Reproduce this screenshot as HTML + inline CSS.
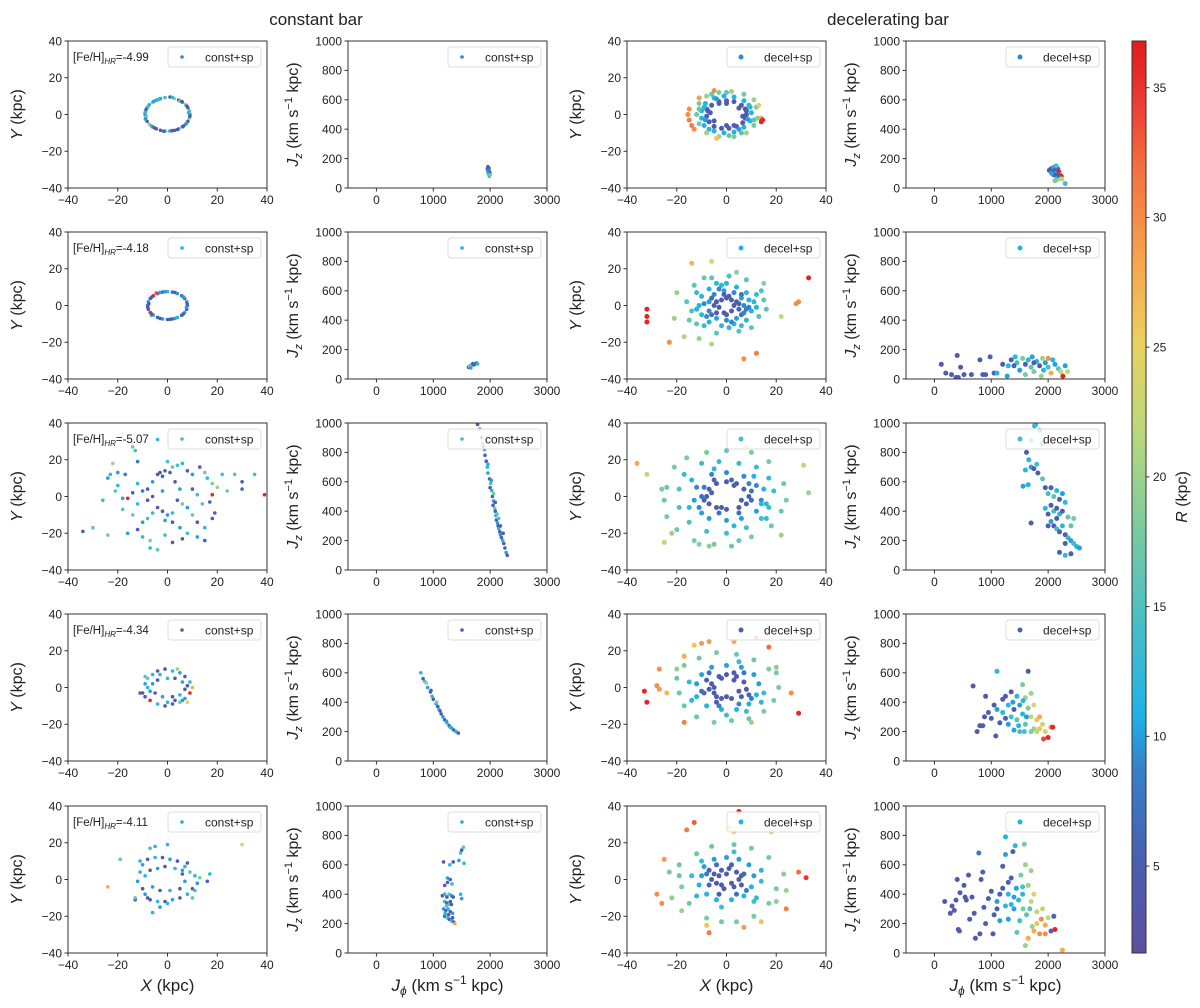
<!DOCTYPE html>
<html><head><meta charset="utf-8"><style>
html,body{margin:0;padding:0;background:#fff;}
svg text{font-family:"Liberation Sans","DejaVu Sans",sans-serif;fill:#222;}
</style></head><body>
<svg id="fig" width="1200" height="1003" viewBox="0 0 1200 1003" xmlns="http://www.w3.org/2000/svg">
<defs>
<linearGradient id="cbgrad" x1="0" y1="1" x2="0" y2="0"></linearGradient>
</defs>
<text x="316" y="25" font-size="17" text-anchor="middle">constant bar</text>
<text x="888" y="25" font-size="17" text-anchor="middle">decelerating bar</text>
<g id="panels"></g>
<g id="cbar"></g>
</svg>
<script>
// ---- data ----
const feh = ["-4.99","-4.18","-5.07","-4.34","-4.11"];
const legendLabelsConst = ["const+sp","const+sp","const+sp","const+sp","const+sp"];
const legendLabelsDecel = ["decel+sp","decel+sp","decel+sp","decel+sp","decel+sp"];
const legendR = [9, 11, 14, 5, 11];
const xyTicks = [-40,-20,0,20,40];
const jphiTicks = [0,1000,2000,3000];
const jzTicks = [0,200,400,600,800,1000];
const cbTicks = [5,10,15,20,25,30,35];

const cA1=[[9,0,8],[8.8,2,16],[8.2,3.7,5],[7.3,5.3,17],[6,6.7,10],[4.5,7.8,4],[2.8,8.6,20],[1,9.5,5],[-1,9.2,14],[-2.8,8.6,10],[-4.5,7.8,11],[-6,6.7,16],[-7.3,5.3,10],[-8.2,3.7,12],[-8.8,1.9,17],[-9,0,5],[-8.8,-1.9,12],[-8.2,-3.7,5],[-7.3,-5.3,28],[-6,-6.7,4],[-4.5,-7.8,5],[-2.8,-8.6,4],[-0.9,-9,16],[0.9,-9,12],[2.8,-8.6,5],[4.5,-7.8,10],[6,-6.7,5],[7.3,-5.3,12],[8.2,-3.7,4],[8.8,-1.9,18],[8.5,1,12],[7.8,4.5,5],[5,7.3,17],[-3.5,8.3,12],[-7.8,4.5,14],[-8.5,-1,18],[-5.2,-7.3,4],[1.8,-8.8,4],[6.5,-6.2,5],[-9,1,12],[9,-1,5],[7.6,-4.8,10],[4,-8.2,4],[-1.5,-9.1,5],[-6.5,-6.2,12],[-8.9,-2.5,10],[-8.6,2.8,5],[-5.5,7.2,10],[2,9.3,12],[5.8,7,4]];
const cA2=[[1950,130,5],[1960,145,4],[1975,120,12],[1990,110,6],[1970,95,16],[1985,80,14],[1995,100,5],[1960,110,10],[1980,135,4],[2000,90,18],[1965,125,8]];
const cB1=[[8,0,5],[7.7,2,10],[6.9,3.8,4],[5.7,5.3,5],[4,6.5,10],[2,7.3,5],[0,7.6,12],[-2,7.3,4],[-4,6.5,5],[-5.7,5.3,36],[-6.9,3.8,5],[-7.7,2,10],[-8,0,5],[-7.7,-2,4],[-6.9,-3.8,36],[-5.7,-5.3,12],[-4,-6.5,5],[-2,-7.3,10],[0,-7.6,4],[2,-7.3,5],[4,-6.5,12],[5.7,-5.3,5],[6.9,-3.8,10],[7.7,-2,4],[-4.5,6.8,34],[3,7,18],[-6.5,-5.5,16],[6.5,4.5,12],[-7.5,1,5],[7.6,-1,10],[1,-7.5,5],[-1,7.5,10],[7.9,1,5],[6.3,4.7,10],[3,7.1,5],[-3,7,10],[-6.3,4.6,5],[-7.9,-1,4],[-6.3,-4.7,5],[-3,-7,4],[3,-7,10],[6.3,-4.7,5]];
const cB2=[[1620,80,5],[1650,90,10],[1680,100,12],[1700,105,5],[1730,100,10],[1760,108,4],[1780,103,12],[1640,85,16],[1710,95,5],[1660,75,10]];
const cC1=[[-14,27,17],[-13,25,14],[-22,18,20],[-23,12,12],[-20,13,10],[-17,12,8],[-21,3,16],[-26,-2,14],[-18,-1,10],[-16,-1,36],[-14,2,5],[-12,7,12],[-10,3,8],[-8,4,5],[-6,8,10],[-4,12,5],[-3,13,4],[-2,11,4],[-1,14,6],[1,13,5],[2,16,17],[4,17,14],[6,18,12],[8,14,5],[10,12,10],[13,16,4],[15,13,17],[16,10,12],[18,7,18],[20,5,20],[22,12,14],[24,3,18],[27,12,16],[30,8,5],[30,4,6],[35,12,14],[39,1,36],[18,1,36],[17,-3,5],[19,-9,5],[18,-12,4],[15,-17,12],[12,-14,5],[10,-10,17],[8,-6,10],[6,-4,18],[4,-2,5],[2,-9,12],[0,-10,10],[-2,-8,5],[-4,-6,4],[-6,-9,12],[-8,-12,14],[-10,-14,10],[-12,-18,5],[-14,-10,17],[-16,-20,10],[-10,-22,12],[-7,-24,18],[-4,-29,16],[-7,-28,12],[-1,-21,14],[2,-25,4],[6,-23,5],[5,-17,10],[8,-20,14],[-34,-19,5],[-30,-17,16],[-24,-21,18],[-2,3,10],[-6,0,5],[3,8,4],[10,4,5],[12,1,14],[14,-4,16],[-12,-4,12],[-18,-7,16],[-20,6,12],[-24,10,10],[-4,31,12],[-12,19,8],[0,19,14],[15,-24,5],[12,-22,10],[5,4,10],[-8,-2,4],[-1,-13,10],[2,-14,5]];
const cC2=[[1780,990,4],[1820,960,12],[1850,900,5],[1870,860,14],[1900,820,10],[1910,780,5],[1930,740,4],[1950,700,12],[1960,660,10],[1990,620,5],[2010,590,14],[2000,560,4],[2030,540,12],[2040,500,5],[2060,470,10],[2050,440,4],[2080,420,16],[2090,400,5],[2100,370,12],[2110,340,4],[2130,320,10],[2140,300,5],[2150,280,12],[2170,260,4],[2180,240,10],[2200,220,5],[2220,200,12],[2240,180,4],[2260,150,5],[2280,120,10],[2300,100,5],[2060,520,18],[2120,380,16],[2180,300,4],[2090,460,5],[2020,610,10],[1960,720,12],[1880,840,5],[2150,350,14],[2230,250,5]];
const cD1=[[-10,-3,4],[-9,2,10],[-8,5,17],[-6,7,12],[-4,9,5],[-1,10,4],[2,9,12],[5,8,10],[7,6,5],[9,3,12],[10,0,28],[9,-3,36],[7,-6,10],[5,-8,18],[2,-9,5],[-1,-10,4],[-4,-9,12],[-7,-7,36],[-9,-5,5],[-11,-3,4],[-6,2,10],[-4,4,5],[0,5,12],[3,5,4],[6,3,10],[7,-1,5],[5,-4,12],[2,-5,4],[-2,-5,10],[-5,-3,5],[-8,0,12],[4,10,20],[-9,6,16],[8,-8,25],[0,-8,12],[3,-7,5],[-3,7,12],[6,-7,10],[8,1,4],[-7,-2,10]];
const cD2=[[780,600,12],[820,560,5],[850,540,14],[900,500,10],[950,470,5],[980,440,12],[1000,420,4],[1050,390,10],[1080,370,5],[1100,350,12],[1140,320,4],[1170,300,10],[1200,280,5],[1240,260,12],[1280,240,4],[1320,225,10],[1360,210,5],[1400,200,12],[1440,190,4],[1060,400,18],[1120,340,5],[1230,270,10],[960,480,4],[1300,230,12],[880,530,20]];
const cE1=[[-24,-4,28],[-19,11,16],[30,19,22],[17,3,12],[16,-1,5],[-7,17,14],[-5,18,12],[0,19,12],[-13,-11,5],[-13,-10,16],[-12,-1,10],[-11,4,12],[-10,8,10],[-8,11,5],[-5,12,12],[-2,12,4],[1,11,10],[4,10,5],[7,7,12],[9,4,16],[11,2,12],[12,-2,10],[10,-5,5],[8,-8,12],[5,-10,4],[2,-11,10],[-1,-12,5],[-4,-12,12],[-7,-11,4],[-9,-8,10],[-10,-5,5],[-9,2,12],[-7,5,5],[-4,6,10],[-1,7,4],[3,6,12],[6,3,5],[7,-1,10],[5,-5,4],[1,-6,12],[-3,-6,5],[-6,-4,10],[-6,-18,12],[-3,-15,10],[0,-13,12],[13,1,18],[10,-10,16],[-8,-10,5],[6,5,10],[-11,10,12],[8,9,5],[11,-6,14]];
const cE2=[[1180,620,5],[1290,600,12],[1350,620,4],[1450,630,10],[1480,680,14],[1500,700,5],[1530,720,16],[1540,610,12],[1250,510,10],[1300,500,5],[1330,470,12],[1200,460,4],[1250,480,5],[1480,400,12],[1500,370,10],[1160,390,4],[1200,400,12],[1240,380,5],[1280,400,16],[1320,390,10],[1350,380,5],[1200,350,12],[1240,340,4],[1280,330,16],[1320,330,5],[1180,300,10],[1220,290,5],[1260,300,12],[1300,280,4],[1340,270,10],[1200,250,5],[1240,240,16],[1280,230,4],[1320,220,12],[1360,210,5],[1380,200,28],[1210,270,12],[1230,320,16],[1300,350,5],[1270,260,4],[1340,240,5]];

const dA3=[[8,0,5],[7.5,3,4],[6,5,5],[3,7,4],[0,7.5,5],[-3,7,4],[-6,5,5],[-7.5,2,4],[-8,-1,5],[-7,-4,4],[-5,-6.5,5],[-2,-7.5,4],[1,-7.5,5],[4,-6.5,4],[6.5,-4.5,5],[7.5,-2,4],[-8,3,5],[8,2,4],[10,1,11],[9.5,4,11],[7,7.5,11],[3,9.5,11],[-1,10,11],[-5,9,11],[-8.5,6,11],[-10,2,11],[-10,-2,11],[-9,-6,11],[-5,-9,11],[-1,-10,11],[3,-9.5,11],[7,-7,11],[9.5,-3.5,11],[-7,-8,12],[12,4,18],[11,8,20],[7,11,18],[2,12.5,20],[-3,12,18],[-8,10,20],[-11,6,18],[-12,0,17],[-11,-5,18],[-8,-10,20],[-3,-12,20],[3,-12,18],[8,-10,20],[11,-6,18],[12.5,-2,19],[13,5,24],[-4,-13,26],[-15,3,30],[-15.5,0,30],[-15,-3,31],[-14,-6,31],[-13,-8,30],[-11,9,29],[-5,13,30],[14,-2,28],[14,-4,36],[14.5,-3,36],[6.5,-1,5],[-6.5,1,5],[5,3.5,4],[-5,-3.5,4],[0,-6,5],[0,6,4],[3,-6,5],[-3,6,5],[8.5,-2.5,10],[-8.5,-3,10],[5,-8,10],[-4,8.5,10],[9,5,12],[-9,4,12],[11,-3,16],[-11,3,16],[6,-10,16],[-6,11,17],[0,12,16],[1,-11.5,16]];
const dA4=[[2020,120,5],[2050,130,4],[2080,110,5],[2100,140,10],[2130,120,4],[2150,100,12],[2170,130,5],[2190,110,36],[2210,90,30],[2230,80,36],[2200,70,16],[2170,60,20],[2150,80,12],[2120,50,18],[2240,60,22],[2300,30,14],[2100,90,5],[2060,100,10],[2140,150,14],[2180,90,4]];
const dB3=[[-2,3,4],[0,4,4],[2,3,4],[3,0,4],[2,-3,4],[-1,-4,4],[-3,-1,4],[-4,2,4],[1,5,5],[4,2,5],[-4,-4,5],[5,-2,5],[7,0,9],[6,4,10],[3,7,9],[-1,8,10],[-5,6,9],[-7,2,10],[-7,-3,9],[-4,-7,10],[0,-8,9],[4,-7,10],[7,-4,9],[9,3,11],[8,7,12],[4,10,11],[-2,11,12],[-7,9,11],[-10,5,12],[-11,0,11],[-10,-5,12],[-7,-9,11],[-2,-11,12],[3,-10,11],[8,-8,12],[10,-3,11],[11,2,12],[12,6,13],[-12,7,13],[-9,-11,13],[6,-11,13],[0,12,12],[14,8,15],[13,-6,15],[-14,-3,15],[-13,11,16],[-6,15,16],[1,16,15],[8,14,16],[15,3,16],[16,-2,16],[5,-14,15],[-4,-15,16],[-12,-10,16],[-16,2,16],[-15,-8,17],[10,-12,16],[-9,15,17],[-20,7,20],[-21,-7,20],[-17,-17,21],[-11,-18,20],[-6,-21,21],[-6,24,24],[-14,23,27],[4,18,19],[15,12,19],[22,-6,22],[-23,-20,30],[7,-29,30],[12,-26,31],[28,1,30],[29,2,30],[33,15,36],[-32,-2,36],[-32,-6,36],[-32,-9,36],[-5,0,5],[5,1,5],[0,-5,5],[-1,6,5],[6,-5,7],[-6,-5,7],[-6,4,7],[6,6,7],[-9,1,9],[9,-1,9],[2,-9,9],[-3,9,9],[8,-2,8],[-8,-6,9],[12,-1,11],[-12,-2,11],[1,-12,12],[-4,12,12]];
const dB4=[[120,100,4],[200,40,4],[300,30,4],[380,10,4],[400,160,4],[420,10,4],[460,80,5],[520,30,4],[650,30,5],[800,130,4],[850,30,5],[900,30,4],[980,150,5],[1050,40,5],[1100,40,12],[1200,100,5],[1280,20,10],[1300,90,12],[1350,130,5],[1420,150,12],[1450,110,14],[1500,60,10],[1550,140,18],[1600,100,5],[1650,130,12],[1700,80,16],[1720,150,10],[1750,50,18],[1800,120,12],[1850,90,5],[1900,140,20],[1920,60,12],[1950,110,10],[2000,80,14],[2050,40,28],[2080,130,12],[2120,100,10],[2180,70,16],[2220,50,22],[2260,20,36],[2300,90,10],[2340,50,22],[2000,140,30],[1880,20,20],[1400,90,5],[1600,30,18],[1750,110,5]];
const dC3=[[-8,0,5],[-7,4,5],[-4,7,5],[0,8,5],[4,7,5],[7,4,5],[9,0,5],[8,-4,5],[5,-6,5],[0,-7,5],[-4,-6,5],[-7,-4,5],[-9,-2,6],[2,9,6],[10,-2,6],[-5,9,6],[-12,5,9],[-11,-6,9],[-6,12,9],[0,13,9],[7,11,9],[12,6,9],[14,-2,9],[12,-8,10],[6,-12,10],[0,-13,10],[-7,-12,10],[-13,-2,10],[15,4,11],[-14,9,11],[-17,12,13],[-10,18,13],[-3,19,13],[5,18,13],[12,16,13],[17,10,13],[19,3,13],[17,-6,13],[14,-12,14],[8,-17,14],[0,-20,14],[-8,-19,14],[-15,-14,15],[-19,-6,15],[-19,4,15],[14,-4,12],[16,-12,13],[-24,5,17],[-25,-2,17],[-24,-11,18],[-20,-18,17],[-13,-24,18],[-5,-26,18],[2,-27,17],[10,-22,18],[18,-16,17],[22,-8,17],[24,-2,18],[23,7,17],[17,19,18],[10,24,18],[0,25,17],[-8,24,18],[-16,21,18],[-21,16,18],[-22,-20,20],[-11,-26,19],[-26,4,18],[5,-24,17],[-36,18,28],[-32,12,22],[31,17,22],[33,2,20],[-25,-25,22],[22,-21,20],[-7,-27,19],[8,27,22],[-6,2,5],[6,-2,5],[-2,-6,5],[3,6,5],[-10,0,7],[10,3,7],[-3,-9,7],[5,-9,7],[-9,5,8],[9,7,9],[-10,-9,10],[3,-16,12],[-15,-6,12],[16,-4,12],[-5,15,12],[11,11,11]];
const dC4=[[1760,980,12],[1780,990,13],[1700,880,14],[1850,950,12],[1900,860,10],[1620,800,5],[1660,750,12],[1700,700,10],[1750,690,5],[1800,720,14],[1820,660,5],[1600,680,12],[1560,570,10],[1650,580,11],[1900,620,16],[1950,560,5],[2000,520,14],[2050,560,5],[2100,500,16],[2150,540,12],[2200,480,5],[2250,520,10],[2300,460,12],[2050,440,5],[2100,400,14],[2150,420,5],[2200,380,12],[2250,400,5],[2350,360,16],[2000,380,5],[2050,330,10],[2100,300,5],[2150,280,14],[2200,260,5],[2250,300,12],[2300,240,5],[2350,220,12],[2400,200,10],[2450,180,14],[2500,160,12],[2550,150,10],[2200,120,5],[2300,100,12],[2400,110,5],[2000,300,5],[1950,420,12],[2150,350,5],[2400,300,16],[2450,350,18],[1700,320,5],[2300,180,5]];
const dD3=[[-6,2,4],[-5,-3,4],[-3,6,4],[0,7,4],[4,6,4],[7,3,4],[8,-1,4],[6,-5,4],[2,-6,4],[-2,-6,5],[-7,-1,5],[-8,4,5],[3,8,5],[-4,-8,5],[9,-4,6],[-9,-3,6],[-12,2,10],[-10,7,10],[-6,11,10],[0,12,10],[6,11,10],[11,7,10],[13,2,10],[12,-4,11],[9,-9,11],[4,-12,11],[-2,-12,11],[-8,-10,11],[-12,-5,11],[14,-8,12],[8,-13,13],[-14,-7,12],[-20,5,17],[-19,-3,17],[-17,12,18],[-11,16,17],[-4,19,18],[4,18,17],[11,15,17],[17,10,18],[20,8,18],[21,0,18],[19,-7,18],[15,-13,18],[9,-17,17],[2,-18,17],[-5,-19,18],[-12,-16,17],[-17,-10,17],[-20,10,19],[20,11,19],[10,-19,20],[-27,10,30],[-28,1,30],[-27,-1,29],[-24,-3,27],[-17,-19,31],[-17,17,28],[-10,24,29],[-7,25,29],[3,25,28],[12,27,30],[17,22,32],[26,-3,30],[-13,23,26],[-33,-2,36],[-32,-8,36],[29,-14,36],[-5,0,4],[5,-2,4],[0,-5,4],[-2,5,4],[3,4,4],[-4,-5,5],[-10,-2,7],[10,-6,8],[-7,8,7],[7,8,8],[-3,-10,8],[5,-9,9],[-15,3,13],[15,-3,13],[0,-15,14],[5,14,13]];
const dD4=[[680,510,4],[750,200,4],[800,240,4],[850,240,5],[880,300,4],[900,440,4],[950,330,5],[1000,290,4],[1050,380,5],[1080,170,4],[1100,350,10],[1100,610,12],[1150,260,5],[1200,420,4],[1200,330,12],[1250,440,5],[1300,250,10],[1300,380,12],[1350,470,4],[1350,300,14],[1400,210,10],[1400,350,5],[1450,440,12],[1450,280,16],[1500,380,10],[1500,200,14],[1550,520,18],[1550,320,12],[1600,430,20],[1600,250,16],[1650,610,4],[1650,360,18],[1700,300,22],[1700,460,20],[1750,220,20],[1750,380,24],[1800,280,26],[1800,200,22],[1850,300,28],[1900,250,22],[1920,150,34],[1950,200,24],[2000,160,36],[2050,230,30],[2080,230,36],[1250,290,5],[1380,400,10],[1480,240,12],[1580,200,14],[1620,300,10],[1560,410,12],[1700,200,18],[1850,220,26]];
const dE3=[[-5,3,4],[-4,-2,4],[-2,5,4],[1,6,4],[4,4,4],[5,0,4],[3,-4,4],[-1,-5,4],[-6,0,5],[6,-3,5],[-7,5,5],[2,8,5],[-3,-8,5],[7,3,6],[-10,2,10],[-9,7,10],[-5,11,10],[0,12,10],[5,11,10],[9,8,10],[11,2,10],[10,-4,11],[7,-9,11],[2,-11,11],[-4,-11,11],[-8,-8,11],[-11,-3,11],[12,-10,12],[-12,-9,12],[14,5,12],[-19,8,17],[-19,2,17],[-18,-4,18],[-15,-13,17],[-8,-21,18],[-2,-23,18],[4,-23,18],[11,-20,18],[17,-13,18],[20,-5,18],[23,3,19],[17,12,18],[10,17,18],[3,19,17],[-6,18,17],[-12,14,17],[-23,4,18],[-22,-10,19],[-18,-17,20],[-8,-25,26],[14,-23,26],[24,-6,20],[20,-12,19],[-25,11,29],[-28,-8,30],[-26,-13,30],[-16,27,31],[-13,31,33],[5,37,36],[7,-26,29],[-7,-29,31],[24,-16,31],[29,4,32],[32,1,35],[1,28,26],[3,26,26],[18,26,26],[-3,2,4],[2,-2,4],[0,3,4],[-2,-3,4],[6,2,6],[-7,-3,6],[-4,8,7],[4,-8,7],[-8,3,8],[8,-6,8],[-14,2,13],[14,-1,13],[-2,-15,14],[3,15,14],[-10,10,13],[11,-12,14]];
const dE4=[[180,350,4],[280,270,4],[310,320,4],[350,290,4],[380,360,4],[400,500,4],[420,160,4],[440,150,4],[450,410,4],[520,460,4],[540,380,4],[560,360,4],[600,530,4],[620,230,4],[660,380,4],[700,270,4],[720,100,4],[780,680,8],[800,130,4],[820,500,4],[850,550,5],[870,310,5],[900,200,5],[950,370,5],[1000,420,5],[1030,130,5],[1050,260,5],[1100,350,10],[1150,220,10],[1200,440,5],[1200,590,5],[1250,790,11],[1250,670,10],[1300,400,12],[1300,230,10],[1350,510,5],[1350,330,12],[1380,690,5],[1400,300,10],[1420,730,12],[1440,440,10],[1450,140,16],[1480,360,12],[1500,220,14],[1520,530,18],[1550,400,12],[1560,300,18],[1580,740,18],[1600,600,20],[1600,50,20],[1620,260,16],[1650,100,28],[1650,460,20],[1700,350,22],[1700,560,20],[1720,180,20],[1750,400,24],[1750,150,28],[1800,280,22],[1800,200,26],[1850,130,30],[1880,230,30],[1900,300,22],[1950,190,28],[1950,130,30],[2000,240,22],[2050,150,5],[2100,250,5],[2120,160,36],[2250,20,28],[1150,400,5],[1100,300,5],[1300,480,5],[1400,380,10],[1250,320,12],[1550,450,14],[1680,300,16]];

const constXY=[cA1,cB1,cC1,cD1,cE1];
const constJ=[cA2,cB2,cC2,cD2,cE2];
const decelXY=[dA3,dB3,dC3,dD3,dE3];
const decelJ=[dA4,dB4,dC4,dD4,dE4];

// ---- layout / style ----
const NS="http://www.w3.org/2000/svg";
const colL=[68,348,627,906], W=199, rowT=[41,232,423,614,806], H=147;
const RMIN=1.65, RMAX=36.8;
const cstops=[[0,"#5e4fa2"],[0.1,"#4a5fb0"],[0.2,"#3580c8"],[0.26,"#1fb2e8"],[0.36,"#46bfc6"],[0.47,"#7ccb9e"],[0.58,"#c0d878"],[0.67,"#ecd060"],[0.76,"#f8a44c"],[0.86,"#f4703e"],[0.95,"#ea3030"],[1,"#e41a1c"]];
function hex(h){return [parseInt(h.substr(1,2),16),parseInt(h.substr(3,2),16),parseInt(h.substr(5,2),16)];}
function cmap(v){let t=(v-RMIN)/(RMAX-RMIN);t=Math.max(0,Math.min(1,t));
 for(let i=1;i<cstops.length;i++){if(t<=cstops[i][0]){const a=cstops[i-1],b=cstops[i];const f=(t-a[0])/(b[0]-a[0]);const ca=hex(a[1]),cb=hex(b[1]);
 return "rgb("+ca.map((c,k)=>Math.round(c+(cb[k]-c)*f)).join(",")+")";}}return cstops[cstops.length-1][1];}
function mk(tag,attrs,parent){const e=document.createElementNS(NS,tag);for(const k in attrs)e.setAttribute(k,attrs[k]);parent.appendChild(e);return e;}
const root=document.getElementById("panels");

function axisFn(min,max,p0,p1){return v=>p0+(v-min)/(max-min)*(p1-p0);}

function panel(ci,ri,pts,kind,legendLabel,lr,dotR){
 const L=colL[ci],T=rowT[ri];
 const g=mk("g",{},root);
 
 
 const isXY=kind==="xy";
 const sx=isXY?axisFn(-40,40,L,L+W):axisFn(-500,3000,L,L+W);
 const sy=isXY?axisFn(-40,40,T+H,T):axisFn(0,1000,T+H,T);
 const xt=isXY?xyTicks:jphiTicks, yt=isXY?xyTicks:jzTicks;
 const clipId="clip"+ci+"_"+ri;
 const cp=mk("clipPath",{id:clipId},g);mk("rect",{x:L,y:T,width:W,height:H},cp);
 const dots=mk("g",{"clip-path":"url(#"+clipId+")"},g);
 
 
 pts.forEach(p=>{const c=mk("circle",{cx:sx(p[0]).toFixed(1),cy:sy(p[1]).toFixed(1),r:dotR,fill:cmap(p[2])},dots);
  
  });
 const fr=mk("rect",{x:L,y:T,width:W,height:H,fill:"none",stroke:"#333","stroke-width":1},g);
 
 
 const xa=mk("g",{},g);
 
 
 xt.forEach(v=>{const x=sx(v);mk("line",{x1:x,y1:T+H,x2:x,y2:T+H+3.5,stroke:"#333"},xa);
  const t=mk("text",{x:x,y:T+H+16,"font-size":12,"text-anchor":"middle"},xa);t.textContent=(v<0?"\u2212"+(-v):""+v);
  
  });
 const ya=mk("g",{},g);
 
 
 yt.forEach(v=>{const y=sy(v);mk("line",{x1:L-3.5,y1:y,x2:L,y2:y,stroke:"#333"},ya);
  const t=mk("text",{x:L-6,y:y+4.3,"font-size":12,"text-anchor":"end"},ya);t.textContent=(v<0?"\u2212"+(-v):""+v);
  
  });
 const lg=mk("g",{},g);
 
 
 mk("rect",{x:L+100,y:T+6,width:93,height:20,rx:3,fill:"#fff","fill-opacity":0.8,stroke:"#ddd"},lg);
 mk("circle",{cx:L+114,cy:T+16,r:dotR,fill:cmap(lr)},lg);
 const lt=mk("text",{x:L+137,y:T+20.5,"font-size":12},lg);lt.textContent=legendLabel;
 
 
 const lx=isXY?L-46:L-50, ly=T+H/2;
 const yl=mk("text",{x:lx,y:ly,"font-size":16,"text-anchor":"middle",transform:"rotate(-90 "+lx+" "+ly+")"},g);
 
 
 if(isXY){yl.innerHTML='<tspan font-style="italic">Y</tspan> (kpc)';}
 else{yl.innerHTML='<tspan font-style="italic">J</tspan><tspan font-size="11" font-style="italic" dy="4">z</tspan><tspan dy="-4"> (km s</tspan><tspan font-size="11" dy="-6">\u22121</tspan><tspan dy="6"> kpc)</tspan>';}
 if(ri===4){const xl=mk("text",{x:L+W/2,y:T+H+38,"font-size":17,"text-anchor":"middle"},g);
  
  
  if(isXY){xl.innerHTML='<tspan font-style="italic">X</tspan> (kpc)';}
  else{xl.innerHTML='<tspan font-style="italic">J</tspan><tspan font-size="12" font-style="italic" dy="4">\u03d5</tspan><tspan dy="-4"> (km s</tspan><tspan font-size="12" dy="-7">\u22121</tspan><tspan dy="7"> kpc)</tspan>';}}
 return {L,T};
}

for(let r=0;r<5;r++){
 const p=panel(0,r,constXY[r],"xy",legendLabelsConst[r],legendR[r],1.8);
 const ft=mk("text",{x:p.L+5,y:p.T+20,"font-size":11.5},root);
 
 
 ft.innerHTML='[Fe/H]<tspan font-size="8" font-style="italic" dy="3">HR</tspan><tspan dy="-3">='+feh[r]+'</tspan>';
 panel(1,r,constJ[r],"j",legendLabelsConst[r],legendR[r],1.8);
 panel(2,r,decelXY[r],"xy",legendLabelsDecel[r],legendR[r],2.5);
 panel(3,r,decelJ[r],"j",legendLabelsDecel[r],legendR[r],2.5);
}

const grad=document.getElementById("cbgrad");
cstops.forEach(s=>mk("stop",{offset:s[0],"stop-color":s[1]},grad));
const cb=document.getElementById("cbar");
const cbx=1132,cbw=14,cbt=41,cbb=953;
mk("rect",{x:cbx,y:cbt,width:cbw,height:cbb-cbt,fill:"url(#cbgrad)",stroke:"#333","stroke-width":1},cb);
const cy=axisFn(RMIN,RMAX,cbb,cbt);
cbTicks.forEach(v=>{const y=cy(v);mk("line",{x1:cbx+cbw,y1:y,x2:cbx+cbw+3.5,y2:y,stroke:"#333"},cb);
 const t=mk("text",{x:cbx+cbw+7,y:y+4.3,"font-size":12},cb);t.textContent=v;
 
 });
const cbl=mk("text",{x:1187,y:497,"font-size":16,"text-anchor":"middle",transform:"rotate(-90 1187 497)"},cb);


cbl.innerHTML='<tspan font-style="italic">R</tspan> (kpc)';
</script>
</body></html>
